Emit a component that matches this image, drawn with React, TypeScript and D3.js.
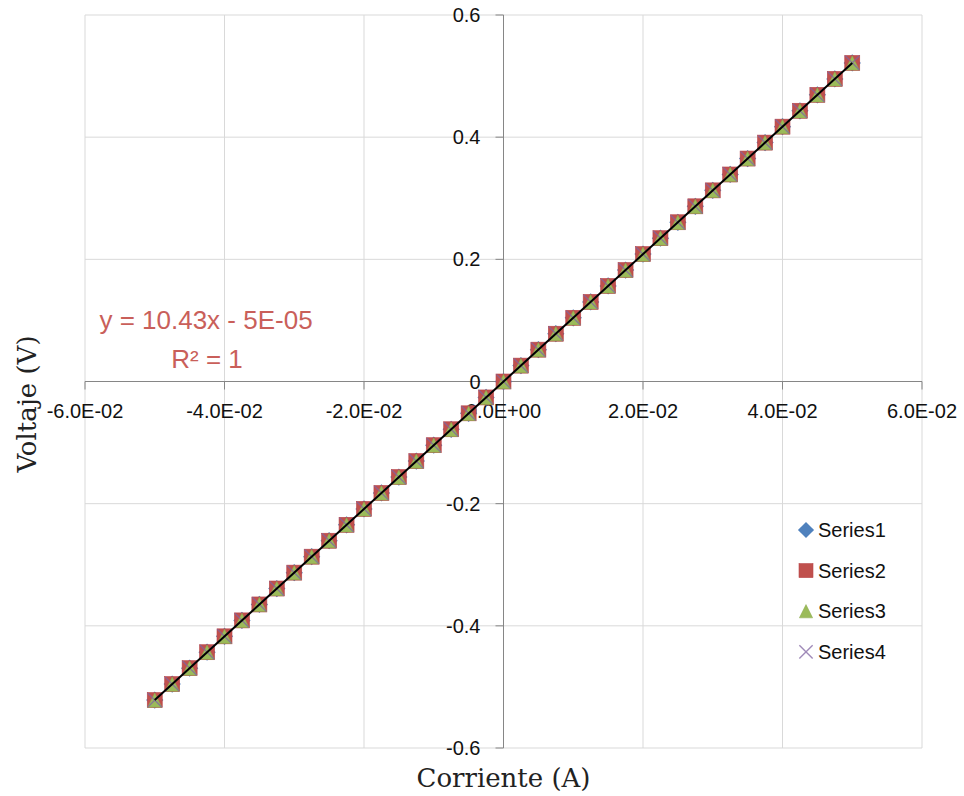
import React from "react";
import * as d3 from "d3";

// Measured current (A) and voltage (V) for the resistor sweep
const currents = [
  -0.05, -0.0475, -0.045, -0.0425, -0.04, -0.0375, -0.035, -0.0325, -0.03, -0.0275,
  -0.025, -0.0225, -0.02, -0.0175, -0.015, -0.0125, -0.01, -0.0075, -0.005, -0.0025,
  0, 0.0025, 0.005, 0.0075, 0.01, 0.0125, 0.015, 0.0175, 0.02, 0.0225,
  0.025, 0.0275, 0.03, 0.0325, 0.035, 0.0375, 0.04, 0.0425, 0.045, 0.0475, 0.05,
];
const voltages = [
  -0.5215, -0.4954, -0.4693, -0.4432, -0.4172, -0.3911, -0.365, -0.3389, -0.3129, -0.2868,
  -0.2607, -0.2346, -0.2086, -0.1825, -0.1564, -0.1303, -0.1043, -0.0782, -0.0521, -0.0261,
  0.0, 0.026, 0.0521, 0.0782, 0.1043, 0.1303, 0.1564, 0.1825, 0.2086, 0.2346,
  0.2607, 0.2868, 0.3129, 0.3389, 0.365, 0.3911, 0.4172, 0.4432, 0.4693, 0.4954, 0.5215,
];

const seriesNames = ["Series1", "Series2", "Series3", "Series4"];
const seriesShapes = ["diamond", "square", "triangle", "cross"];
const seriesColors = ["#4F81BD", "#C0504D", "#9BBB59", "#8064A2"];

const xTicks = [-0.06, -0.04, -0.02, 0, 0.02, 0.04, 0.06];
const xTickLabels = ["-6.0E-02", "-4.0E-02", "-2.0E-02", "0.0E+00", "2.0E-02", "4.0E-02", "6.0E-02"];
const yTicks = [0.6, 0.4, 0.2, 0, -0.2, -0.4, -0.6];
const yTickLabels = ["0.6", "0.4", "0.2", "0", "-0.2", "-0.4", "-0.6"];

// Linear trendline fit shown on the chart
const trendSlope = 10.43;
const trendIntercept = -5e-5;
const trendRange = [-0.05, 0.05];
const equationLines = ["y = 10.43x - 5E-05", "R² = 1"];

const W = 964;
const H = 796;
const plot = { left: 85, right: 922, top: 15, bottom: 748 };

const sansFont = "'Liberation Sans', Arial, sans-serif";
const serifFont = "'DejaVu Serif', 'Liberation Serif', serif";

function Marker({ shape, color, cx, cy, size }: { shape: string; color: string; cx: number; cy: number; size: number }) {
  const h = size / 2;
  if (shape === "square") {
    return <rect x={cx - h} y={cy - h} width={size} height={size} fill={color} stroke="#B8464A" strokeWidth={0.6} />;
  }
  if (shape === "diamond") {
    const r = h * 1.15;
    return <path d={`M${cx},${cy - r}L${cx + r},${cy}L${cx},${cy + r}L${cx - r},${cy}Z`} fill={color} />;
  }
  if (shape === "triangle") {
    const hh = h * 0.95;
    return <path d={`M${cx},${cy - hh}L${cx + hh},${cy + hh}L${cx - hh},${cy + hh}Z`} fill={color} stroke="#8DAA4E" strokeWidth={0.5} />;
  }
  const r = h * 0.95;
  return (
    <path
      d={`M${cx - r},${cy - r}L${cx + r},${cy + r}M${cx + r},${cy - r}L${cx - r},${cy + r}`}
      stroke={color}
      strokeOpacity={0.75}
      strokeWidth={1.4}
      fill="none"
    />
  );
}

export default function App() {
  const x = d3.scaleLinear().domain([-0.06, 0.06]).range([plot.left, plot.right]);
  const y = d3.scaleLinear().domain([-0.6, 0.6]).range([plot.bottom, plot.top]);
  const x0 = x(0);
  const y0 = y(0);

  const trendLine = d3
    .line<number>()
    .x((d) => x(d))
    .y((d) => y(trendSlope * d + trendIntercept))(trendRange);

  const points = currents.map((c, i) => ({ c, v: voltages[i] }));

  return (
    <svg width={W} height={H} style={{ position: "absolute", left: 0, top: 0, background: "#fff" }}>
      {/* grid */}
      {xTicks.map((t) => (
        <line key={`gx${t}`} x1={x(t)} x2={x(t)} y1={plot.top} y2={plot.bottom} stroke="#D9D9D9" strokeWidth={1} />
      ))}
      {yTicks.map((t) => (
        <line key={`gy${t}`} x1={plot.left} x2={plot.right} y1={y(t)} y2={y(t)} stroke="#D9D9D9" strokeWidth={1} />
      ))}

      {/* axes through the origin */}
      <line x1={plot.left} x2={plot.right} y1={y0} y2={y0} stroke="#868686" strokeWidth={1} />
      <line x1={x0} x2={x0} y1={plot.top} y2={plot.bottom} stroke="#868686" strokeWidth={1} />
      {xTicks.map((t) => (
        <line key={`tx${t}`} x1={x(t)} x2={x(t)} y1={y0} y2={y0 + 8} stroke="#868686" strokeWidth={1} />
      ))}
      {yTicks.map((t) => (
        <line key={`ty${t}`} x1={x0 - 8} x2={x0} y1={y(t)} y2={y(t)} stroke="#868686" strokeWidth={1} />
      ))}

      {/* tick labels */}
      {xTicks.map((t, i) => (
        <text key={`lx${t}`} x={x(t)} y={y0 + 36} textAnchor="middle" fontFamily={sansFont} fontSize={20} fill="#111">
          {xTickLabels[i]}
        </text>
      ))}
      {yTicks.map((t, i) => (
        <text
          key={`ly${t}`}
          x={x0 - 23}
          y={y(t)}
          dy="0.35em"
          textAnchor="end"
          fontFamily={sansFont}
          fontSize={20}
          fill="#111"
        >
          {yTickLabels[i]}
        </text>
      ))}

      {/* series markers */}
      {seriesShapes.map((shape, s) => (
        <g key={seriesNames[s]}>
          {points.map((p, i) => (
            <Marker key={i} shape={shape} color={seriesColors[s]} cx={x(p.c)} cy={y(p.v)} size={15} />
          ))}
        </g>
      ))}

      {/* trendline */}
      <path d={trendLine ?? ""} stroke="#000" strokeWidth={2} fill="none" />

      {/* trendline equation */}
      <text x={206} y={329} textAnchor="middle" fontFamily={sansFont} fontSize={26} fill="#C95F5A">
        {equationLines[0]}
      </text>
      <text x={207} y={368} textAnchor="middle" fontFamily={sansFont} fontSize={26} fill="#C95F5A">
        {equationLines[1]}
      </text>

      {/* legend */}
      {seriesNames.map((name, i) => {
        const ly = 530 + i * 40.6;
        return (
          <g key={name}>
            <Marker shape={seriesShapes[i]} color={seriesColors[i]} cx={806} cy={ly} size={14} />
            <text x={818} y={ly} dy="0.35em" fontFamily={sansFont} fontSize={20} fill="#111">
              {name}
            </text>
          </g>
        );
      })}

      {/* axis titles */}
      <text x={(plot.left + plot.right) / 2} y={787} textAnchor="middle" fontFamily={serifFont} fontSize={26} fill="#222">
        Corriente (A)
      </text>
      <text
        transform={`translate(36,404) rotate(-90)`}
        textAnchor="middle"
        fontFamily={serifFont}
        fontSize={26}
        fill="#222"
      >
        Voltaje (V)
      </text>
    </svg>
  );
}
